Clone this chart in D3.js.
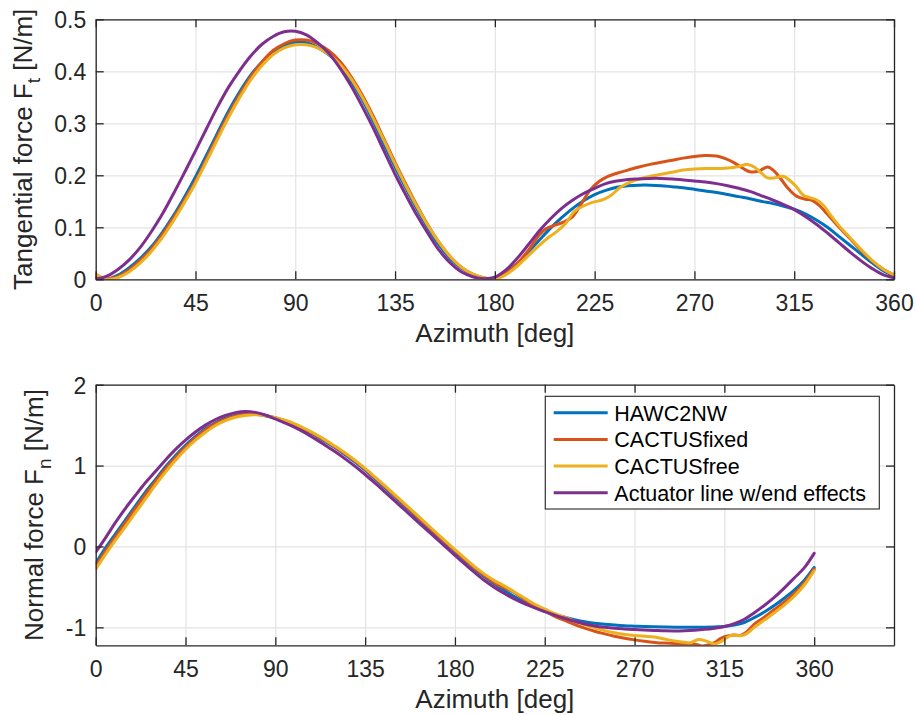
<!DOCTYPE html>
<html>
<head>
<meta charset="utf-8">
<script src="https://cdn.jsdelivr.net/npm/d3@7"></script>
<style>
  html, body { margin: 0; padding: 0; background: #ffffff; }
  svg { display: block; font-family: "Liberation Sans", Arial, Helvetica, sans-serif; }
</style>
</head>
<body>
<svg id="fig" width="917" height="715"></svg>
<script>
// ---- Series names and colours ----
const seriesNames = ["HAWC2NW", "CACTUSfixed", "CACTUSfree", "Actuator line w/end effects"];
const seriesColors = ["#0072BD", "#D95319", "#EDB120", "#7E2F8E"];

// ---- Axis ticks ----
const azTicks = [0, 45, 90, 135, 180, 225, 270, 315, 360];
const azTickLabels = ["0", "45", "90", "135", "180", "225", "270", "315", "360"];
const ftTicks = [0, 0.1, 0.2, 0.3, 0.4, 0.5];
const ftTickLabels = ["0", "0.1", "0.2", "0.3", "0.4", "0.5"];
const fnTicks = [-1, 0, 1, 2];
const fnTickLabels = ["-1", "0", "1", "2"];

// ---- Azimuth sampling (deg) shared by the smooth series ----
const az5 = [0,5,10,15,20,25,30,35,40,45,50,55,60,65,70,75,80,85,90,95,100,105,110,115,120,
  125,130,135,140,145,150,155,160,165,170,175,180,185,190,195,200,205,210,215,220,225,230,235,
  240,245,250,255,260,265,270,275,280,285,290,295,300,305,310,315,320,325,330,335,340,345,350,355,360];

// ---- Tangential force Ft [N/m] ----
const hawcFt = [0.002,0.0,0.008,0.022,0.04,0.062,0.09,0.122,0.158,0.197,0.239,0.282,0.324,0.361,0.393,
  0.418,0.438,0.45,0.456,0.455,0.446,0.432,0.413,0.383,0.347,0.305,0.26,0.216,0.174,0.134,0.097,0.065,
  0.039,0.021,0.009,0.002,0.002,0.014,0.03,0.052,0.075,0.098,0.118,0.136,0.151,0.163,0.171,0.177,0.18,
  0.181,0.181,0.18,0.178,0.176,0.173,0.17,0.167,0.163,0.159,0.155,0.15,0.146,0.141,0.135,0.126,0.114,
  0.1,0.083,0.066,0.049,0.032,0.017,0.006];

const actFt = [0.0,0.006,0.019,0.037,0.061,0.091,0.125,0.164,0.205,0.247,0.29,0.332,0.37,0.402,0.43,
  0.452,0.467,0.476,0.477,0.47,0.455,0.435,0.407,0.373,0.334,0.292,0.247,0.202,0.161,0.122,0.087,0.055,
  0.031,0.014,0.005,0.001,0.004,0.018,0.04,0.066,0.093,0.116,0.136,0.152,0.165,0.175,0.184,0.189,0.192,
  0.193,0.194,0.194,0.193,0.191,0.189,0.187,0.184,0.18,0.175,0.169,0.161,0.153,0.144,0.134,0.121,0.106,
  0.089,0.071,0.053,0.036,0.021,0.009,0.003];

const fixedFtAz = [0,5,10,15,20,25,30,35,40,45,50,55,60,65,70,75,80,85,90,95,100,105,110,115,120,
  125,130,135,140,145,150,155,160,165,170,175,180,185,190,195,200,203,207,211,215,219,223,227,231,235,
  240,245,250,255,260,265,270,275,280,284,288,292,295,299,303,306,309,312,316,320,323,326,330,335,340,
  345,350,355,360];
const fixedFt = [0.005,0.001,0.005,0.018,0.036,0.058,0.086,0.118,0.152,0.189,0.232,0.276,0.318,0.356,
  0.39,0.418,0.44,0.453,0.46,0.46,0.453,0.44,0.42,0.391,0.356,0.315,0.27,0.225,0.182,0.141,0.103,0.07,
  0.043,0.023,0.01,0.003,0.001,0.012,0.03,0.055,0.085,0.097,0.104,0.11,0.12,0.145,0.172,0.188,0.198,
  0.204,0.21,0.216,0.221,0.225,0.229,0.233,0.236,0.238,0.237,0.232,0.224,0.213,0.207,0.208,0.216,0.208,
  0.193,0.176,0.16,0.154,0.152,0.143,0.125,0.101,0.079,0.056,0.036,0.02,0.008];

const freeFtAz = [0,3,6,10,15,20,25,30,35,40,45,50,55,60,65,70,75,80,85,90,95,100,105,110,115,120,
  125,130,135,140,145,150,155,160,165,170,175,180,185,190,195,200,204,208,212,216,220,224,228,232,236,
  240,245,250,255,260,265,270,275,280,285,290,294,297,300,303,306,310,313,316,319,322,325,328,332,336,
  340,345,350,355,360];
const freeFt = [0.01,0.003,0.0,0.003,0.014,0.031,0.053,0.08,0.112,0.147,0.185,0.227,0.27,0.312,0.35,
  0.384,0.411,0.432,0.445,0.451,0.451,0.445,0.433,0.414,0.387,0.352,0.311,0.267,0.222,0.179,0.139,0.102,
  0.07,0.043,0.023,0.01,0.003,0.0,0.009,0.025,0.045,0.065,0.08,0.092,0.108,0.131,0.141,0.148,0.152,0.16,
  0.175,0.185,0.193,0.198,0.202,0.206,0.21,0.212,0.213,0.213,0.214,0.217,0.221,0.216,0.205,0.195,0.195,
  0.198,0.19,0.178,0.162,0.157,0.153,0.143,0.12,0.099,0.081,0.058,0.037,0.02,0.009];

// ---- Normal force Fn [N/m] ----
const hawcFn = [-0.21,-0.015,0.16,0.333,0.505,0.675,0.83,0.985,1.125,1.25,1.36,1.455,1.53,1.585,1.622,
  1.638,1.635,1.617,1.588,1.548,1.498,1.437,1.372,1.298,1.22,1.135,1.043,0.943,0.834,0.722,0.609,0.496,
  0.382,0.268,0.155,0.043,-0.067,-0.176,-0.28,-0.378,-0.466,-0.548,-0.623,-0.69,-0.75,-0.8,-0.84,-0.875,
  -0.905,-0.93,-0.948,-0.962,-0.972,-0.98,-0.985,-0.99,-0.993,-0.996,-0.998,-1.0,-1.0,-0.998,-0.995,
  -0.99,-0.972,-0.94,-0.88,-0.81,-0.73,-0.64,-0.54,-0.42,-0.26];

const actFn = [-0.07,0.11,0.3,0.475,0.635,0.79,0.93,1.07,1.2,1.315,1.415,1.5,1.57,1.62,1.655,1.67,
  1.658,1.625,1.577,1.525,1.47,1.405,1.33,1.252,1.17,1.083,0.99,0.89,0.783,0.672,0.56,0.448,0.336,
  0.224,0.113,0.001,-0.11,-0.218,-0.324,-0.424,-0.51,-0.585,-0.652,-0.71,-0.76,-0.805,-0.848,-0.888,-0.925,
  -0.958,-0.983,-1.0,-1.012,-1.02,-1.027,-1.033,-1.038,-1.043,-1.045,-1.042,-1.035,-1.025,-1.01,-0.99,
  -0.955,-0.9,-0.82,-0.73,-0.63,-0.515,-0.39,-0.265,-0.085];

const fixedFnAz = [0,5,10,15,20,25,30,35,40,45,50,55,60,65,70,75,80,85,90,95,100,105,110,115,120,
  125,130,135,140,145,150,155,160,165,170,175,180,185,190,195,200,205,209,213,217,221,226,230,235,240,
  245,250,255,260,265,270,275,280,285,290,295,300,304,307,310,313,316,320,323,326,330,335,340,345,350,
  355,360];
const fixedFn = [-0.25,-0.05,0.125,0.3,0.475,0.645,0.805,0.96,1.1,1.23,1.343,1.44,1.518,1.575,1.613,
  1.635,1.637,1.62,1.592,1.555,1.507,1.448,1.383,1.31,1.23,1.146,1.055,0.956,0.848,0.736,0.623,0.51,0.396,
  0.282,0.169,0.057,-0.053,-0.162,-0.266,-0.362,-0.45,-0.515,-0.56,-0.625,-0.69,-0.75,-0.81,-0.865,-0.915,
  -0.965,-1.01,-1.048,-1.08,-1.11,-1.135,-1.155,-1.172,-1.186,-1.195,-1.2,-1.2,-1.205,-1.23,-1.215,-1.19,
  -1.14,-1.11,-1.095,-1.1,-1.06,-0.96,-0.875,-0.78,-0.69,-0.58,-0.45,-0.28];

const freeFnAz = [0,5,10,15,20,25,30,35,40,45,50,55,60,65,70,75,80,85,90,95,100,105,110,115,120,
  125,130,135,140,145,150,155,160,165,170,175,180,185,190,195,200,205,210,215,220,226,230,235,240,245,
  250,255,260,265,270,275,280,285,290,295,298,302,306,310,313,316,319,323,326,330,335,340,345,350,355,360];
const freeFn = [-0.28,-0.095,0.08,0.248,0.42,0.59,0.762,0.92,1.065,1.198,1.315,1.413,1.495,1.556,1.597,
  1.62,1.627,1.617,1.593,1.56,1.512,1.455,1.39,1.318,1.238,1.155,1.064,0.965,0.858,0.748,0.636,0.524,0.411,
  0.298,0.185,0.073,-0.038,-0.148,-0.252,-0.345,-0.425,-0.49,-0.565,-0.64,-0.715,-0.785,-0.83,-0.875,
  -0.925,-0.97,-1.005,-1.04,-1.068,-1.088,-1.1,-1.11,-1.12,-1.145,-1.168,-1.185,-1.19,-1.15,-1.17,-1.205,
  -1.18,-1.13,-1.095,-1.105,-1.08,-1.0,-0.91,-0.82,-0.725,-0.615,-0.48,-0.3];

const zip = (xs, ys) => xs.map((v, i) => [v, ys[i]]);

const ftSeries = [zip(az5, hawcFt), zip(fixedFtAz, fixedFt), zip(freeFtAz, freeFt), zip(az5, actFt)];
const fnSeries = [zip(az5, hawcFn), zip(fixedFnAz, fixedFn), zip(freeFnAz, freeFn), zip(az5, actFn)];

// ---- Figure ----
const svg = d3.select("#fig");
const axisColor = "#262626";
const gridColor = "#e3e3e3";
const tickFont = 23;
const labelFont = 26;

function drawPanel(opt) {
  const { id, xDomain, yDomain, box, series, yTicks, yTickLabels, yLabelMain, yLabelSub, yLabelX } = opt;
  const x = d3.scaleLinear().domain(xDomain).range([box.left, box.right]);
  const y = d3.scaleLinear().domain(yDomain).range([box.bottom, box.top]);
  const w = box.right - box.left, h = box.bottom - box.top;
  const g = svg.append("g");

  g.append("clipPath").attr("id", "clip-" + id)
    .append("rect").attr("x", box.left).attr("y", box.top).attr("width", w).attr("height", h);

  // grid
  const gx = g.append("g").attr("transform", `translate(0,${box.bottom})`)
    .call(d3.axisBottom(x).tickValues(azTicks).tickSize(-h).tickFormat(""));
  const gy = g.append("g").attr("transform", `translate(${box.left},0)`)
    .call(d3.axisLeft(y).tickValues(yTicks).tickSize(-w).tickFormat(""));
  [gx, gy].forEach(a => {
    a.select(".domain").remove();
    a.selectAll("line").attr("stroke", gridColor).attr("stroke-width", 1.2);
  });

  // data lines
  const line = d3.line().x(d => x(d[0])).y(d => y(d[1])).curve(d3.curveCatmullRom.alpha(0.5));
  const lg = g.append("g").attr("clip-path", `url(#clip-${id})`);
  series.forEach((s, i) => {
    lg.append("path").datum(s).attr("d", line)
      .attr("fill", "none").attr("stroke", seriesColors[i])
      .attr("stroke-width", 3).attr("stroke-linejoin", "round").attr("stroke-linecap", "round");
  });

  // axes with inward ticks on all sides
  const tick = 8;
  const styleAxis = a => {
    a.select(".domain").attr("stroke", axisColor).attr("stroke-width", 1.3);
    a.selectAll(".tick line").attr("stroke", axisColor).attr("stroke-width", 1.3);
    a.selectAll("text").attr("fill", axisColor).attr("font-size", tickFont)
      .attr("font-family", "Liberation Sans, Arial, Helvetica, sans-serif");
  };
  const ab = g.append("g").attr("transform", `translate(0,${box.bottom})`)
    .call(d3.axisBottom(x).tickValues(azTicks).tickSize(-tick).tickSizeOuter(0)
      .tickFormat((d, i) => azTickLabels[i]));
  styleAxis(ab);
  ab.selectAll("text").attr("y", 32).attr("dy", null);

  const at = g.append("g").attr("transform", `translate(0,${box.top})`)
    .call(d3.axisTop(x).tickValues(azTicks).tickSize(-tick).tickSizeOuter(0).tickFormat(""));
  styleAxis(at);

  const al = g.append("g").attr("transform", `translate(${box.left},0)`)
    .call(d3.axisLeft(y).tickValues(yTicks).tickSize(-tick).tickSizeOuter(0)
      .tickFormat((d, i) => yTickLabels[i]));
  styleAxis(al);
  al.selectAll("text").attr("x", -9.5).attr("dy", null).attr("y", 8.3);

  const ar = g.append("g").attr("transform", `translate(${box.right},0)`)
    .call(d3.axisRight(y).tickValues(yTicks).tickSize(-tick).tickSizeOuter(0).tickFormat(""));
  styleAxis(ar);

  // axis labels
  g.append("text").attr("x", (box.left + box.right) / 2).attr("y", box.bottom + 62.5)
    .attr("text-anchor", "middle").attr("font-size", labelFont).attr("fill", axisColor)
    .text("Azimuth [deg]");

  const yl = g.append("text")
    .attr("transform", `translate(${yLabelX},${(box.top + box.bottom) / 2}) rotate(-90)`)
    .attr("text-anchor", "middle").attr("font-size", labelFont).attr("fill", axisColor);
  yl.append("tspan").text(yLabelMain);
  yl.append("tspan").attr("dy", 8).attr("font-size", 19).text(yLabelSub);
  yl.append("tspan").attr("dy", -8).text(" [N/m]");

  return { x, y };
}

drawPanel({
  id: "ft", xDomain: [0, 360], yDomain: [0, 0.5],
  box: { left: 95.7, right: 894, top: 19.3, bottom: 279.3 },
  series: ftSeries, yTicks: ftTicks, yTickLabels: ftTickLabels,
  yLabelMain: "Tangential force F", yLabelSub: "t", yLabelX: 31.5
});

drawPanel({
  id: "fn", xDomain: [0, 400], yDomain: [-1.222, 2],
  box: { left: 95.7, right: 894, top: 384.7, bottom: 645.3 },
  series: fnSeries, yTicks: fnTicks, yTickLabels: fnTickLabels,
  yLabelMain: "Normal force F", yLabelSub: "n", yLabelX: 42.5
});

// ---- Legend ----
const legend = svg.append("g");
legend.append("rect").attr("x", 545.3).attr("y", 396.3).attr("width", 334).attr("height", 112.7)
  .attr("fill", "#ffffff").attr("stroke", axisColor).attr("stroke-width", 1.1);
seriesNames.forEach((name, i) => {
  const cy = 412.7 + i * 26.7;
  legend.append("line").attr("x1", 553.7).attr("x2", 607.7).attr("y1", cy).attr("y2", cy)
    .attr("stroke", seriesColors[i]).attr("stroke-width", 3);
  legend.append("text").attr("x", 614.3).attr("y", cy + 7.8)
    .attr("font-size", 21.5).attr("fill", "#000000").text(name);
});
</script>
</body>
</html>
